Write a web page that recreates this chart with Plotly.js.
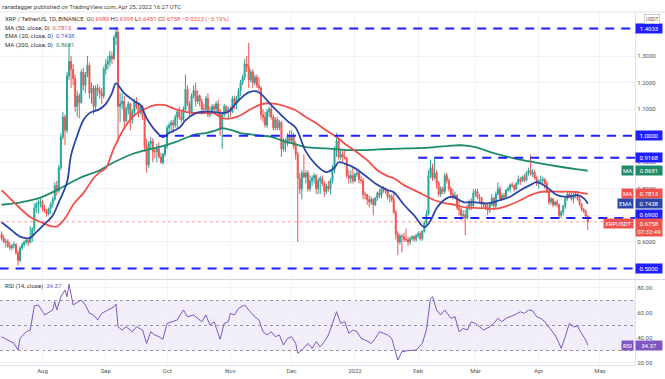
<!DOCTYPE html>
<html><head><meta charset="utf-8">
<script src="https://cdn.plot.ly/plotly-3.0.1.min.js"></script>
<style>html,body{margin:0;padding:0;background:#fff;}#chart{width:665px;height:379px;}</style>
</head><body><div id="chart"></div>
<script>
// ---------- DATA (daily XRP/USDT, from 2021-07-12) ----------
const firstDate = '2021-07-12';
const open = [
 0.630,0.615,0.600,0.602,0.585,0.578,0.586,0.590,0.560,0.530,0.578,0.590,0.600,0.606,0.598,0.620,0.650,0.728,0.742,0.748,
 0.752,0.725,0.718,0.705,0.725,0.742,0.760,0.812,0.792,0.880,0.995,1.070,1.020,1.225,1.280,1.250,1.215,1.110,1.150,1.125,1.240,1.190,1.230,1.265,1.160,1.180,1.110,1.180,1.170,1.160,1.150,
 1.250,1.270,1.280,1.300,1.290,1.370,1.390,1.110,1.120,1.130,1.055,1.100,1.120,1.060,1.090,1.130,1.110,1.085,1.110,1.070,0.960,0.890,0.970,0.980,0.940,0.940,0.950,0.920,0.900,0.930,
 0.960,1.030,1.040,1.050,1.040,1.070,1.090,1.070,1.060,1.100,1.175,1.120,1.090,1.150,1.170,1.130,1.150,1.130,1.100,1.100,1.140,1.080,1.090,1.110,1.100,1.120,1.090,1.030,1.080,1.110,1.090,
 1.100,1.090,1.140,1.120,1.140,1.170,1.200,1.220,1.270,1.260,1.210,1.240,1.200,1.220,1.190,1.180,1.080,1.070,1.040,1.090,1.100,1.070,1.030,1.060,1.030,1.050,0.950,0.980,0.970,1.000,
 0.980,1.000,0.960,0.930,0.840,0.800,0.860,0.845,0.860,0.800,0.830,0.840,0.850,0.800,0.830,0.840,0.820,0.790,0.810,0.800,0.830,0.870,0.950,0.980,0.920,0.930,0.920,0.915,0.850,0.840,0.850,
 0.830,0.855,0.860,0.835,0.830,0.780,0.778,0.760,0.750,0.760,0.740,0.765,0.785,0.775,0.800,0.795,0.790,0.770,0.772,0.760,0.712,0.630,0.600,0.622,0.620,0.610,0.608,0.600,0.612,0.620,0.610,
 0.625,0.632,0.612,0.640,0.672,0.705,0.850,0.880,0.840,0.860,0.820,0.780,0.800,0.790,0.850,0.830,0.800,0.780,0.770,0.775,0.730,0.720,0.700,0.702,0.690,0.730,0.750,0.735,
 0.785,0.790,0.770,0.765,0.740,0.742,0.730,0.720,0.740,0.765,0.735,0.780,0.800,0.760,0.775,0.770,0.795,0.800,0.815,0.812,0.800,0.820,0.835,0.830,0.845,0.832,0.860,0.870,0.855,0.862,0.840,
 0.820,0.830,0.832,0.835,0.820,0.790,0.750,0.762,0.740,0.750,0.740,0.700,0.712,0.735,0.762,0.780,0.772,0.762,0.775,0.780,0.762,0.742,0.722,0.715,0.698
];
const high = [
 0.640,0.625,0.612,0.610,0.600,0.592,0.602,0.595,0.568,0.585,0.598,0.605,0.615,0.612,0.660,0.655,0.745,0.752,0.760,0.765,
 0.760,0.740,0.725,0.730,0.750,0.770,0.825,0.830,0.890,1.010,1.090,1.080,1.240,1.345,1.300,1.270,1.230,1.170,1.160,1.250,1.255,1.240,1.300,1.275,1.200,1.190,1.190,1.195,1.185,1.180,1.260,
 1.290,1.300,1.320,1.315,1.380,1.410,1.400,1.160,1.160,1.150,1.110,1.130,1.125,1.100,1.140,1.145,1.120,1.120,1.115,1.075,0.990,0.980,0.995,0.990,0.955,0.970,0.975,0.935,0.935,0.965,
 1.040,1.050,1.060,1.060,1.080,1.100,1.110,1.090,1.110,1.230,1.190,1.130,1.160,1.190,1.200,1.170,1.155,1.140,1.120,1.150,1.160,1.110,1.120,1.120,1.130,1.135,1.100,1.090,1.120,1.115,1.110,
 1.110,1.150,1.150,1.150,1.180,1.210,1.230,1.290,1.300,1.350,1.250,1.250,1.230,1.230,1.220,1.185,1.100,1.090,1.100,1.110,1.110,1.080,1.070,1.070,1.060,1.055,0.990,0.990,1.010,1.020,
 1.020,1.010,0.980,0.940,0.860,0.870,0.930,0.870,0.870,0.850,0.850,0.860,0.855,0.840,0.850,0.850,0.830,0.820,0.830,0.840,0.890,0.960,1.010,0.990,0.950,0.945,0.950,0.920,0.870,0.870,0.880,
 0.860,0.870,0.865,0.850,0.840,0.790,0.780,0.775,0.770,0.765,0.770,0.790,0.800,0.805,0.810,0.805,0.795,0.780,0.780,0.790,0.720,0.640,0.630,0.630,0.635,0.650,0.620,0.620,0.625,0.625,0.630,
 0.640,0.640,0.645,0.680,0.720,0.870,0.910,0.895,0.915,0.870,0.830,0.810,0.810,0.860,0.860,0.840,0.810,0.800,0.790,0.780,0.760,0.730,0.720,0.720,0.740,0.760,0.765,0.800,
 0.800,0.800,0.780,0.770,0.750,0.748,0.745,0.750,0.780,0.770,0.790,0.825,0.810,0.785,0.785,0.800,0.810,0.820,0.825,0.815,0.825,0.850,0.845,0.850,0.855,0.865,0.880,0.930,0.875,0.870,0.850,
 0.835,0.850,0.845,0.840,0.830,0.795,0.770,0.765,0.755,0.760,0.745,0.720,0.740,0.770,0.790,0.790,0.785,0.785,0.790,0.790,0.775,0.748,0.728,0.722,0.6998
];
const low = [
 0.605,0.595,0.580,0.578,0.570,0.568,0.575,0.552,0.512,0.525,0.570,0.580,0.590,0.585,0.595,0.600,0.640,0.710,0.705,0.730,
 0.715,0.710,0.695,0.700,0.705,0.730,0.755,0.775,0.785,0.870,0.985,0.965,1.010,1.210,1.180,1.190,1.090,1.070,1.065,1.120,1.170,1.160,1.220,1.140,1.120,1.080,1.090,1.150,1.140,1.120,1.140,
 1.230,1.250,1.260,1.270,1.285,1.340,0.975,1.050,1.100,1.030,1.050,1.080,1.020,1.045,1.080,1.100,1.070,1.080,1.060,0.940,0.860,0.880,0.950,0.900,0.915,0.900,0.915,0.895,0.890,0.920,
 0.950,1.010,1.020,1.010,1.030,1.030,1.060,1.050,1.055,1.090,1.110,1.070,1.080,1.140,1.110,1.120,1.110,1.080,1.080,1.090,1.070,1.070,1.080,1.080,1.090,1.080,1.000,0.950,1.070,1.080,1.060,
 1.070,1.085,1.100,1.100,1.130,1.150,1.190,1.210,1.240,1.180,1.200,1.180,1.190,1.180,1.170,1.060,1.050,1.030,1.030,1.070,1.060,1.020,1.020,1.020,1.020,0.920,0.940,0.940,0.960,0.970,
 0.970,0.950,0.910,0.600,0.780,0.760,0.840,0.820,0.790,0.790,0.810,0.820,0.780,0.780,0.780,0.810,0.770,0.780,0.790,0.780,0.820,0.860,0.920,0.910,0.910,0.900,0.910,0.840,0.820,0.820,0.820,
 0.825,0.845,0.820,0.820,0.760,0.760,0.740,0.730,0.740,0.700,0.735,0.755,0.765,0.765,0.785,0.780,0.760,0.750,0.750,0.705,0.610,0.550,0.590,0.560,0.600,0.600,0.585,0.590,0.605,0.600,0.600,
 0.615,0.605,0.605,0.635,0.665,0.700,0.840,0.830,0.835,0.800,0.770,0.770,0.780,0.780,0.820,0.790,0.770,0.760,0.760,0.720,0.700,0.680,0.690,0.625,0.685,0.720,0.720,0.730,
 0.770,0.760,0.750,0.730,0.730,0.720,0.700,0.710,0.735,0.720,0.725,0.775,0.755,0.755,0.760,0.765,0.790,0.785,0.805,0.790,0.795,0.815,0.815,0.825,0.825,0.828,0.850,0.850,0.845,0.835,0.810,
 0.800,0.820,0.820,0.800,0.785,0.740,0.740,0.730,0.735,0.730,0.690,0.690,0.700,0.725,0.755,0.765,0.755,0.745,0.765,0.755,0.735,0.715,0.710,0.690,0.6451
];
const close = [
 0.615,0.600,0.602,0.585,0.578,0.586,0.590,0.560,0.530,0.578,0.590,0.600,0.606,0.598,0.620,0.650,0.728,0.742,0.748,0.752,
 0.725,0.718,0.705,0.725,0.742,0.760,0.812,0.792,0.880,0.995,1.070,1.020,1.225,1.280,1.250,1.215,1.110,1.150,1.125,1.240,1.190,1.230,1.265,1.160,1.180,1.110,1.180,1.170,1.160,1.150,1.250,
 1.270,1.280,1.300,1.290,1.370,1.390,1.110,1.120,1.130,1.055,1.100,1.120,1.060,1.090,1.130,1.110,1.085,1.110,1.070,0.960,0.890,0.970,0.980,0.940,0.940,0.950,0.920,0.900,0.930,0.960,
 1.030,1.040,1.050,1.040,1.070,1.090,1.070,1.060,1.100,1.175,1.120,1.090,1.150,1.170,1.130,1.150,1.130,1.100,1.100,1.140,1.080,1.090,1.110,1.100,1.120,1.090,1.030,1.080,1.110,1.090,1.100,
 1.090,1.140,1.120,1.140,1.170,1.200,1.220,1.270,1.260,1.210,1.240,1.200,1.220,1.190,1.180,1.080,1.070,1.040,1.090,1.100,1.070,1.030,1.060,1.030,1.050,0.950,0.980,0.970,1.000,0.980,
 1.000,0.960,0.930,0.840,0.800,0.860,0.845,0.860,0.800,0.830,0.840,0.850,0.800,0.830,0.840,0.820,0.790,0.810,0.800,0.830,0.870,0.950,0.980,0.920,0.930,0.920,0.915,0.850,0.840,0.850,0.830,
 0.855,0.860,0.835,0.830,0.780,0.778,0.760,0.750,0.760,0.740,0.765,0.785,0.775,0.800,0.795,0.790,0.770,0.772,0.760,0.712,0.630,0.600,0.622,0.620,0.610,0.608,0.600,0.612,0.620,0.610,0.625,
 0.632,0.612,0.640,0.672,0.705,0.850,0.880,0.840,0.860,0.820,0.780,0.800,0.790,0.850,0.830,0.800,0.780,0.770,0.775,0.730,0.720,0.700,0.702,0.690,0.730,0.750,0.735,0.785,
 0.790,0.770,0.765,0.740,0.742,0.730,0.720,0.740,0.765,0.735,0.780,0.800,0.760,0.775,0.770,0.795,0.800,0.815,0.812,0.800,0.820,0.835,0.830,0.845,0.832,0.860,0.870,0.855,0.862,0.840,0.820,
 0.830,0.832,0.835,0.820,0.790,0.750,0.762,0.740,0.750,0.740,0.700,0.712,0.735,0.762,0.780,0.772,0.762,0.775,0.780,0.762,0.742,0.722,0.715,0.698,0.6758
];

// Indicator lines
const ema20Dates = ['2021-07-12','2021-07-16','2021-07-21','2021-07-26','2021-07-28','2021-08-01','2021-08-06','2021-08-09','2021-08-13','2021-08-15','2021-08-18','2021-08-21','2021-08-24','2021-08-29','2021-09-01','2021-09-04','2021-09-06','2021-09-10','2021-09-15','2021-09-18','2021-09-21','2021-09-26','2021-09-29','2021-10-02','2021-10-07','2021-10-10','2021-10-15','2021-10-18','2021-10-23','2021-10-28','2021-10-31','2021-11-03','2021-11-06','2021-11-10','2021-11-14','2021-11-17','2021-11-21','2021-11-26','2021-11-29','2021-12-03','2021-12-08','2021-12-13','2021-12-18','2021-12-22','2021-12-24','2021-12-27','2022-01-01','2022-01-06','2022-01-11','2022-01-17','2022-01-20','2022-01-25','2022-01-30','2022-02-04','2022-02-07','2022-02-10','2022-02-15','2022-02-18','2022-02-23','2022-02-28','2022-03-04','2022-03-08','2022-03-13','2022-03-18','2022-03-23','2022-03-28','2022-03-31','2022-04-05','2022-04-10','2022-04-15','2022-04-20','2022-04-23','2022-04-25'];
const ema20Vals = [0.674,0.650,0.620,0.615,0.630,0.660,0.700,0.750,0.825,0.927,1.000,1.058,1.085,1.100,1.120,1.160,1.197,1.160,1.130,1.115,1.066,1.013,0.995,1.010,1.030,1.058,1.085,1.090,1.090,1.085,1.090,1.115,1.140,1.163,1.167,1.150,1.115,1.077,1.055,1.030,0.940,0.890,0.863,0.880,0.900,0.895,0.878,0.850,0.820,0.795,0.787,0.740,0.700,0.656,0.680,0.727,0.765,0.770,0.750,0.750,0.747,0.746,0.757,0.770,0.795,0.815,0.825,0.806,0.776,0.770,0.776,0.765,0.7438];

const ma50Dates = ['2021-07-12','2021-07-16','2021-07-21','2021-07-26','2021-07-31','2021-08-05','2021-08-08','2021-08-10','2021-08-13','2021-08-16','2021-08-21','2021-08-26','2021-08-29','2021-09-01','2021-09-05','2021-09-10','2021-09-15','2021-09-20','2021-09-25','2021-09-30','2021-10-05','2021-10-10','2021-10-15','2021-10-20','2021-10-24','2021-10-28','2021-11-02','2021-11-06','2021-11-11','2021-11-16','2021-11-21','2021-11-26','2021-12-01','2021-12-03','2021-12-08','2021-12-13','2021-12-18','2021-12-23','2021-12-28','2022-01-02','2022-01-07','2022-01-12','2022-01-17','2022-01-20','2022-01-25','2022-01-30','2022-02-04','2022-02-09','2022-02-14','2022-02-19','2022-02-24','2022-03-01','2022-03-06','2022-03-08','2022-03-13','2022-03-18','2022-03-23','2022-03-28','2022-04-01','2022-04-07','2022-04-12','2022-04-17','2022-04-22','2022-04-25'];
const ma50Vals = [0.795,0.765,0.727,0.694,0.675,0.660,0.658,0.670,0.700,0.740,0.784,0.840,0.863,0.878,0.953,1.028,1.077,1.100,1.115,1.115,1.100,1.090,1.085,1.086,1.085,1.066,1.066,1.077,1.100,1.118,1.122,1.115,1.102,1.096,1.070,1.047,1.020,0.995,0.964,0.938,0.908,0.870,0.848,0.840,0.814,0.795,0.776,0.757,0.746,0.740,0.730,0.728,0.727,0.725,0.727,0.740,0.757,0.776,0.787,0.790,0.789,0.789,0.785,0.7813];

const ma200Dates = ['2021-07-12','2021-07-22','2021-08-01','2021-08-10','2021-08-19','2021-08-29','2021-09-05','2021-09-15','2021-09-25','2021-10-05','2021-10-15','2021-10-20','2021-10-25','2021-10-28','2021-11-02','2021-11-06','2021-11-11','2021-11-16','2021-11-21','2021-11-26','2021-12-01','2021-12-08','2021-12-18','2021-12-28','2022-01-07','2022-01-17','2022-01-27','2022-02-06','2022-02-16','2022-02-22','2022-03-01','2022-03-10','2022-03-20','2022-03-30','2022-04-10','2022-04-20','2022-04-25'];
const ma200Vals = [0.740,0.750,0.770,0.803,0.840,0.870,0.900,0.934,0.953,0.976,1.005,1.010,1.020,1.028,1.020,1.010,1.005,1.000,0.996,0.983,0.972,0.957,0.952,0.946,0.946,0.950,0.952,0.955,0.962,0.964,0.957,0.934,0.915,0.900,0.885,0.873,0.8681];

const rsiDates = ['2021-07-12','2021-07-15','2021-07-18','2021-07-20','2021-07-21','2021-07-24','2021-07-26','2021-07-28','2021-07-30','2021-08-02','2021-08-04','2021-08-06','2021-08-07','2021-08-08','2021-08-10','2021-08-12','2021-08-13','2021-08-14','2021-08-16','2021-08-18','2021-08-20','2021-08-22','2021-08-24','2021-08-26','2021-08-28','2021-08-30','2021-09-02','2021-09-05','2021-09-06','2021-09-07','2021-09-09','2021-09-11','2021-09-14','2021-09-16','2021-09-19','2021-09-21','2021-09-23','2021-09-25','2021-09-27','2021-09-29','2021-10-01','2021-10-03','2021-10-06','2021-10-09','2021-10-11','2021-10-14','2021-10-16','2021-10-18','2021-10-20','2021-10-22','2021-10-24','2021-10-27','2021-10-29','2021-10-31','2021-11-01','2021-11-03','2021-11-05','2021-11-08','2021-11-10','2021-11-13','2021-11-15','2021-11-17','2021-11-19','2021-11-21','2021-11-23','2021-11-25','2021-11-27','2021-11-29','2021-12-01','2021-12-03','2021-12-04','2021-12-06','2021-12-09','2021-12-11','2021-12-13','2021-12-15','2021-12-17','2021-12-19','2021-12-21','2021-12-23','2021-12-25','2021-12-27','2021-12-29','2021-12-31','2022-01-02','2022-01-04','2022-01-06','2022-01-09','2022-01-11','2022-01-13','2022-01-15','2022-01-17','2022-01-19','2022-01-21','2022-01-22','2022-01-24','2022-01-27','2022-01-31','2022-02-03','2022-02-05','2022-02-07','2022-02-08','2022-02-10','2022-02-12','2022-02-14','2022-02-17','2022-02-19','2022-02-21','2022-02-23','2022-02-25','2022-02-27','2022-03-01','2022-03-03','2022-03-05','2022-03-08','2022-03-10','2022-03-12','2022-03-14','2022-03-16','2022-03-18','2022-03-20','2022-03-23','2022-03-25','2022-03-27','2022-03-29','2022-03-31','2022-04-02','2022-04-04','2022-04-06','2022-04-09','2022-04-11','2022-04-12','2022-04-14','2022-04-16','2022-04-18','2022-04-20','2022-04-22','2022-04-24','2022-04-25'];
const rsiVals = [41,38.4,35.7,30.4,39.7,45,46.4,65.6,66.4,58.4,60.3,62.4,69,62.4,73,78.4,73,83,66.4,68.3,70.4,66.4,59.7,58.4,54.4,59.7,62.4,65,67.2,49,46.4,49,45,49,46.4,35.7,45,42.4,41,39,51.7,53,54.4,62.4,57,58.4,55.7,53,58.4,50.4,53,39,51.7,53,59.7,58.4,63.7,66.4,62.4,57,54.4,45,42.4,45,41,42.4,34.4,39.7,41,35.7,27.7,30.4,35.7,31.7,37,33,37,42.4,51.7,61,51.7,53,43.7,46.4,45,39.7,38.4,35.7,39.7,45,43.7,42.4,39.7,27.7,22.4,29,29.9,30.4,35.7,46.4,71.5,73,62.4,58.4,62.4,55.7,57,45,47.7,46.4,53,51.7,49,46.4,49,51.7,55.7,53,55.7,57,58.4,61,59.7,62.4,61.9,57,55.7,53,49,42.4,35.7,31.7,41,51.7,49,49.6,43.7,38.4,34.37];

// Horizontal support / resistance rays
const levelValues = [1.4033, 1.0000, 0.9168, 0.6900, 0.5000];
const levelStarts = ['2021-08-18','2021-09-27','2022-02-01','2022-02-03','2021-07-11'];
const lastPrice = 0.6758;
const monthTicks = ['2021-08-01','2021-09-01','2021-10-01','2021-11-01','2021-12-01','2022-01-01','2022-02-01','2022-03-01','2022-04-01','2022-05-01'];
const monthLabels = ['Aug','Sep','Oct','Nov','Dec','2022','Feb','Mar','Apr','May'];
const priceTicks = [0.5,0.6,0.7,0.8,0.9,1.0,1.1,1.2,1.3,1.4];
const priceTickText = ['','0.6000','','0.8000','0.9000','','1.1000','1.2000','1.3000',''];
const rsiTicks = [20,40,60,80];

// ---------- BUILD ----------
const dates = close.map((_, i) => new Date(Date.UTC(2021, 6, 12) + i * 86400000).toISOString().slice(0, 10));
const X0 = '2021-07-11 04:33', X1 = '2022-05-18 03:36';
const FONT = 'Roboto, "Liberation Sans", Arial, sans-serif';
const UP = '#26a69a', DN = '#ef5350', BLUE = '#1f1fff', EMA = '#2b46a8', MA50 = '#f2504a', MA200 = '#1d8a6b', RSI = '#7e57c2';

const traces = [
  {type:'candlestick', x:dates, open:open, high:high, low:low, close:close, xaxis:'x', yaxis:'y',
   increasing:{line:{color:UP,width:1}, fillcolor:UP}, decreasing:{line:{color:DN,width:1}, fillcolor:DN},
   whiskerwidth:0, hoverinfo:'skip', showlegend:false},
  {type:'scatter', mode:'lines', x:ma200Dates, y:ma200Vals, line:{color:MA200,width:1.8,shape:'spline'}, xaxis:'x', yaxis:'y', showlegend:false},
  {type:'scatter', mode:'lines', x:ma50Dates, y:ma50Vals, line:{color:MA50,width:1.8,shape:'spline'}, xaxis:'x', yaxis:'y', showlegend:false},
  {type:'scatter', mode:'lines', x:ema20Dates, y:ema20Vals, line:{color:EMA,width:1.8,shape:'spline'}, xaxis:'x', yaxis:'y', showlegend:false},
  {type:'scatter', mode:'lines', x:rsiDates, y:rsiVals, line:{color:RSI,width:1}, xaxis:'x', yaxis:'y2', showlegend:false}
];

const shapes = [];
shapes.push({type:'rect', xref:'paper', yref:'y2', x0:0, x1:1, y0:30, y1:70, fillcolor:'rgba(126,87,194,0.10)', line:{width:0}, layer:'below'});
[70,50,30].forEach(v => shapes.push({type:'line', xref:'paper', yref:'y2', x0:0, x1:1, y0:v, y1:v, line:{color:'#9598a1',width:1,dash:'3px,3px'}, layer:'below'}));
shapes.push({type:'line', xref:'x', yref:'y', x0:X0, x1:X1, y0:lastPrice, y1:lastPrice, line:{color:'rgba(239,83,80,0.55)',width:1,dash:'dot'}});
levelValues.forEach((v,i) => shapes.push({type:'line', xref:'x', yref:'y', x0:levelStarts[i], x1:X1, y0:v, y1:v, line:{color:BLUE,width:2,dash:'9px,7px'}}));
shapes.push({type:'line', xref:'paper', yref:'paper', x0:0, x1:1.06, y0:0.2422, y1:0.2422, line:{color:'#d1d4dc',width:1}});
shapes.push({type:'line', xref:'paper', yref:'paper', x0:0, x1:1.06, y0:1, y1:1, line:{color:'#e0e3eb',width:1}});

const ann = [];
const small = (c) => ({family:FONT, size:6, color:c});
function axisBox(y, yref, text, bg, yshift, yanchor){
  ann.push({xref:'paper', x:1, xanchor:'left', xshift:0, yref:yref, y:y, yanchor:yanchor||'middle', yshift:yshift||0,
    text:text, showarrow:false, bgcolor:bg, font:small('#ffffff'), borderpad:1, width:24, align:'center'});
}
function tagBox(y, yref, text, bg, yshift, yanchor){
  ann.push({xref:'paper', x:1, xanchor:'right', xshift:-1, yref:yref, y:y, yanchor:yanchor||'middle', yshift:yshift||0,
    text:text, showarrow:false, bgcolor:bg, font:small('#ffffff'), borderpad:1});
}
axisBox(levelValues[0],'y','1.4033',BLUE);
axisBox(levelValues[1],'y','1.0000',BLUE);
axisBox(levelValues[2],'y','0.9168',BLUE);
axisBox(levelValues[3],'y','0.6900',BLUE,4);
axisBox(levelValues[4],'y','0.5000',BLUE);
axisBox(ma200Vals[ma200Vals.length-1],'y','0.8681',MA200); tagBox(ma200Vals[ma200Vals.length-1],'y','MA',MA200);
axisBox(ma50Vals[ma50Vals.length-1],'y','0.7813',MA50); tagBox(ma50Vals[ma50Vals.length-1],'y','MA',MA50);
axisBox(ema20Vals[ema20Vals.length-1],'y','0.7438',EMA); tagBox(ema20Vals[ema20Vals.length-1],'y','EMA',EMA);
axisBox(lastPrice,'y','0.6758<br>07:32:49',DN,4,'top'); tagBox(lastPrice,'y','XRPUSDT',DN,4,'top');
axisBox(rsiVals[rsiVals.length-1],'y2','34.37',RSI); tagBox(rsiVals[rsiVals.length-1],'y2','RSI',RSI);
ann.push({xref:'paper', x:1, xanchor:'left', xshift:9, yref:'paper', y:1, yanchor:'middle', yshift:-7, text:'USDT', showarrow:false,
  bgcolor:'#ffffff', bordercolor:'#c8cad0', borderwidth:1, borderpad:1, font:{family:FONT,size:5,color:'#555'}});

const red = s => '<span style="color:#ef5350">'+s+'</span>';
function legendLine(text, shift){
  ann.push({xref:'paper', x:0, xanchor:'left', xshift:3, yref:'paper', y:1, yanchor:'middle', yshift:shift, text:text,
    showarrow:false, font:small('#333'), align:'left'});
}
ann.push({xref:'paper', x:0, xanchor:'left', xshift:0, yref:'paper', y:1, yanchor:'middle', yshift:6,
  text:'ranadagger published on TradingView.com, Apr 25, 2022 16:27 UTC', showarrow:false, font:small('#444')});
legendLine('XRP / TetherUS, 1D, BINANCE  O'+red('0.6980')+' H'+red('0.6998')+' L'+red('0.6451')+' C'+red('0.6758')+' '+red('−0.0223 (−3.19%)'), -7);
legendLine('MA (50, close, 0)  <span style="color:'+MA50+'">0.7813</span>', -15.5);
legendLine('EMA (20, close, 0)  <span style="color:#3f5fc8">0.7438</span>', -24);
legendLine('MA (200, close, 0)  <span style="color:'+MA200+'">0.8681</span>', -32.5);
ann.push({xref:'paper', x:0, xanchor:'left', xshift:3, yref:'paper', y:0.2408, yanchor:'middle', yshift:-6,
  text:'RSI (14, close)  <span style="color:'+RSI+'">34.37</span>', showarrow:false, font:small('#333')});

const layout = {
  width:665, height:379, margin:{l:0, r:30, t:12, b:14}, paper_bgcolor:'#ffffff', plot_bgcolor:'#ffffff',
  font:{family:FONT, size:6, color:'#555'}, showlegend:false, dragmode:false,
  xaxis:{type:'date', range:[X0,X1], anchor:'y2', tickvals:monthTicks, ticktext:monthLabels, showgrid:true, gridcolor:'#f0f3fa',
    gridwidth:1, zeroline:false, showline:true, linecolor:'#e0e3eb', ticks:'', tickfont:{family:FONT,size:6,color:'#555'},
    rangeslider:{visible:false}, fixedrange:true},
  yaxis:{domain:[0.2436,1], range:[0.4605,1.4657], side:'right', anchor:'x', tickvals:priceTicks, ticktext:priceTickText,
    showgrid:true, gridcolor:'#f0f3fa', zeroline:false, showline:true, linecolor:'#e0e3eb', ticks:'', tickfont:{family:FONT,size:6,color:'#555'}, fixedrange:true},
  yaxis2:{domain:[0,0.2408], range:[18.4,86.4], side:'right', anchor:'x', tickvals:rsiTicks, ticktext:rsiTicks.map(v=>v.toFixed(2)),
    showgrid:true, gridcolor:'#f0f3fa', zeroline:false, showline:true, linecolor:'#e0e3eb', ticks:'', tickfont:{family:FONT,size:6,color:'#555'}, fixedrange:true},
  shapes:shapes, annotations:ann
};
Plotly.newPlot('chart', traces, layout, {staticPlot:true, displayModeBar:false});
</script></body></html>
